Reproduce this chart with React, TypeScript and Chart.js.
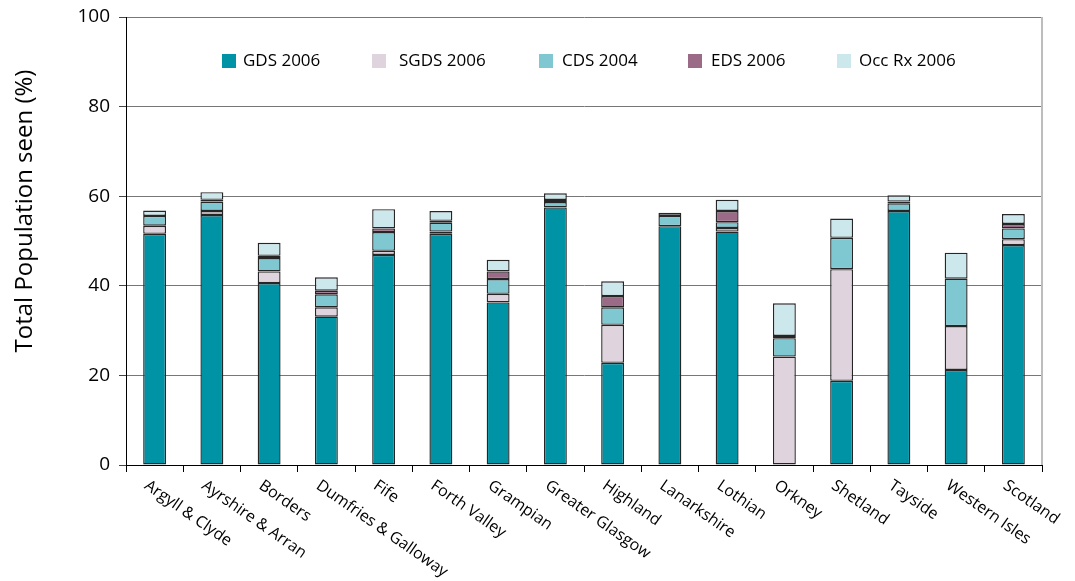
import React, { useEffect, useRef } from "react";
import { Chart, registerables } from "chart.js";

Chart.register(...registerables);

// Health board areas (last bar is the national total)
const categories = [
  "Argyll & Clyde",
  "Ayrshire & Arran",
  "Borders",
  "Dumfries & Galloway",
  "Fife",
  "Forth Valley",
  "Grampian",
  "Greater Glasgow",
  "Highland",
  "Lanarkshire",
  "Lothian",
  "Orkney",
  "Shetland",
  "Tayside",
  "Western Isles",
  "Scotland",
];

// Percentage of total population seen, by service
const gds2006 = [51.6, 55.8, 40.6, 33.1, 46.9, 51.6, 36.3, 57.5, 22.8, 53.3, 52.1, 0, 18.8, 56.7, 21.2, 49.1];
const sgds2006 = [1.8, 0.9, 2.6, 2.1, 0.9, 0.5, 1.9, 0, 8.5, 0, 0.8, 24.2, 24.9, 0, 9.8, 1.3];
const cds2004 = [2.2, 2.1, 3.0, 2.9, 4.2, 2.0, 3.3, 1.2, 3.9, 2.3, 1.3, 4.1, 7.0, 1.7, 10.6, 2.4];
const eds2006 = [0, 0.4, 0.5, 0.8, 0.8, 0.4, 1.7, 0.45, 2.5, 0, 2.5, 0.5, 0, 0.4, 0, 1.0];
const occRx2006 = [1.2, 1.7, 2.9, 3.0, 4.3, 2.2, 2.6, 1.5, 3.3, 0.7, 2.5, 7.3, 4.3, 1.4, 5.8, 2.2];

const seriesLabels = ["GDS 2006", "SGDS 2006", "CDS 2004", "EDS 2006", "Occ Rx 2006"];
const seriesValues = [gds2006, sgds2006, cds2004, eds2006, occRx2006];
const seriesColors = ["#0093a6", "#dfd3dd", "#80c8d1", "#9b6a87", "#cde8ec"];

const yMin = 0;
const yMax = 100;
const yStep = 20;
const yAxisTitle = "Total Population seen (%)";

const FONT = "'Open Sans', 'Noto Sans', 'DejaVu Sans', sans-serif";

// Legend placement inside the plot (box left edge, text left edge)
const legendBoxX = [222, 372, 539, 688, 837];
const legendTextX = [243, 399, 562, 711, 859];

const decorPlugin = {
  id: "decor",
  afterDraw(chart: any) {
    const { ctx, chartArea, scales } = chart;
    const xScale = scales.x;
    ctx.save();

    // light frame on the right of the plot
    ctx.strokeStyle = "#bdbdbd";
    ctx.lineWidth = 2;
    ctx.beginPath();
    ctx.moveTo(chartArea.right, chartArea.top);
    ctx.lineTo(chartArea.right, chartArea.bottom);
    ctx.stroke();

    // slanted category labels, reading downward to the right
    ctx.font = `16px ${FONT}`;
    ctx.fillStyle = "#000";
    ctx.textAlign = "left";
    ctx.textBaseline = "middle";
    categories.forEach((name, i) => {
      const px = xScale.getPixelForValue(i);
      ctx.save();
      ctx.translate(px - 8.5, chartArea.bottom + 19);
      ctx.rotate((35 * Math.PI) / 180);
      ctx.fillText(name, 0, 0);
      ctx.restore();
    });

    // vertical axis title
    ctx.save();
    ctx.font = `24px ${FONT}`;
    ctx.textAlign = "center";
    ctx.textBaseline = "alphabetic";
    ctx.translate(32, 211);
    ctx.rotate(-Math.PI / 2);
    ctx.fillText(yAxisTitle, 0, 0);
    ctx.restore();

    // legend row
    ctx.font = `17px ${FONT}`;
    ctx.textBaseline = "middle";
    chart.data.datasets.forEach((ds: any, i: number) => {
      ctx.fillStyle = ds.backgroundColor;
      ctx.fillRect(legendBoxX[i], 54, 14, 14);
      ctx.fillStyle = "#000";
      ctx.fillText(ds.label, legendTextX[i], 61.5);
    });

    ctx.restore();
  },
};

export default function App() {
  const canvasRef = useRef<HTMLCanvasElement | null>(null);

  useEffect(() => {
    const canvas = canvasRef.current;
    if (!canvas) return;
    const chart = new Chart(canvas, {
      type: "bar",
      data: {
        labels: categories,
        datasets: seriesLabels.map((label, i) => ({
          label,
          data: seriesValues[i],
          backgroundColor: seriesColors[i],
          borderColor: "#262626",
          borderWidth: 1.4,
          borderSkipped: false,
          barPercentage: 0.4,
          categoryPercentage: 1,
          stack: "all",
        })),
      },
      options: {
        responsive: false,
        devicePixelRatio: 1,
        animation: false,
        layout: { padding: { left: 0, right: 33, top: 17, bottom: 0 } },
        plugins: {
          legend: { display: false },
          tooltip: { enabled: false },
          title: { display: false },
        },
        scales: {
          x: {
            stacked: true,
            offset: true,
            ticks: { display: false },
            grid: {
              display: true,
              offset: true,
              drawOnChartArea: false,
              drawTicks: true,
              tickLength: 7,
              color: "#000",
              lineWidth: 1,
            },
            border: { display: true, color: "#000", width: 1 },
            afterFit(scale: any) {
              scale.height = 116;
              scale.paddingLeft = 0;
              scale.paddingRight = 0;
            },
          },
          y: {
            stacked: true,
            min: yMin,
            max: yMax,
            ticks: {
              stepSize: yStep,
              color: "#000",
              padding: 9,
              font: { family: FONT, size: 19 },
            },
            grid: {
              color: "#777",
              lineWidth: 1,
              tickLength: 7,
              tickColor: "#444",
            },
            border: { display: true, color: "#000", width: 1 },
            afterFit(scale: any) {
              scale.width = 126;
              scale.paddingTop = 0;
              scale.paddingBottom = 0;
            },
          },
        },
      },
      plugins: [decorPlugin],
    });
    return () => chart.destroy();
  }, []);

  return (
    <div style={{ position: "absolute", left: 0, top: 0, width: 1075, height: 581, background: "#fff" }}>
      <canvas ref={canvasRef} width={1075} height={581} />
    </div>
  );
}
